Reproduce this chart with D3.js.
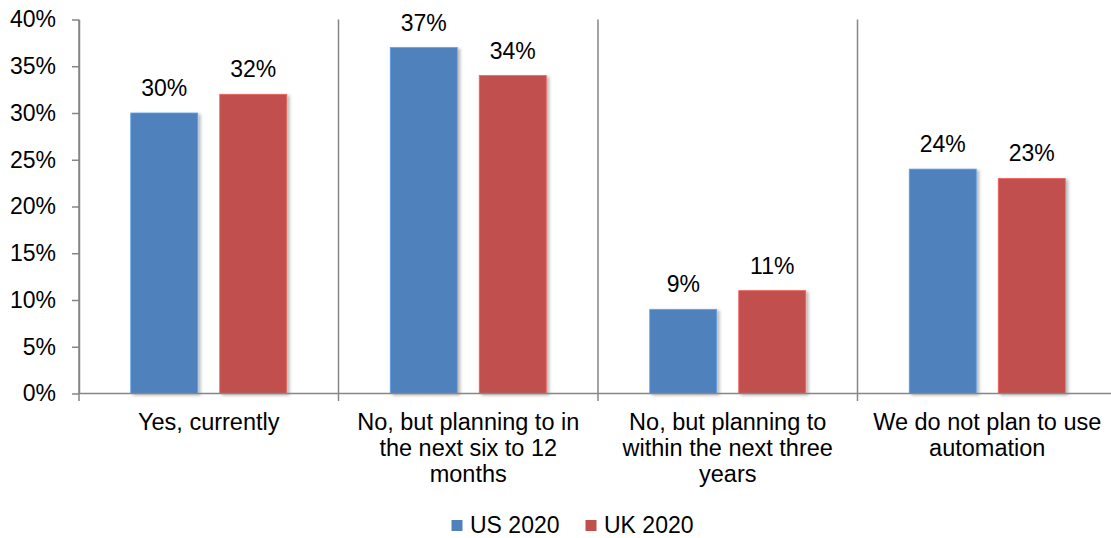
<!DOCTYPE html>
<html>
<head>
<meta charset="utf-8">
<script src="https://cdn.jsdelivr.net/npm/d3@7/dist/d3.min.js"></script>
<style>
  html, body { margin: 0; padding: 0; background: #ffffff; }
  svg { display: block; font-family: "Liberation Sans", Arial, sans-serif; }
</style>
</head>
<body>
<svg id="chart" width="1111" height="538"></svg>
<script>
// Survey answers, grouped by response
const categories = [
  "Yes, currently",
  "No, but planning to in the next six to 12 months",
  "No, but planning to within the next three years",
  "We do not plan to use automation"
];
const seriesNames = ["US 2020", "UK 2020"];
const us2020 = [30, 37, 9, 24];
const uk2020 = [32, 34, 11, 23];
const yTicks = [0, 5, 10, 15, 20, 25, 30, 35, 40];
const seriesColors = ["#4F81BD", "#C0504D"];

const svg = d3.select("#chart");
const plot = { left: 79, right: 1117, top: 19.5, bottom: 393.5 };

const y = d3.scaleLinear().domain([0, 40]).range([plot.bottom, plot.top]);
const x = d3.scaleBand().domain(categories).range([plot.left, plot.right]).padding(0);
const barW = 67, barGap = 22;
const inner = d3.scaleBand().domain(seriesNames)
  .range([-(barW + barGap / 2), barW + barGap / 2])
  .paddingInner(barGap / (barW + barGap)).paddingOuter(0);

// soft shadow under the bars
const defs = svg.append("defs");
const f = defs.append("filter").attr("id", "shadow")
  .attr("x", "-20%").attr("y", "-20%").attr("width", "150%").attr("height", "150%");
f.append("feDropShadow").attr("dx", 2.5).attr("dy", 1.5).attr("stdDeviation", 1.6)
  .attr("flood-color", "#000").attr("flood-opacity", 0.28);

const axisColor = "#868686";

// category separators (extend below the baseline)
svg.append("g").selectAll("line")
  .data(categories.map(c => x(c)).concat([plot.right]))
  .join("line")
  .attr("x1", d => d).attr("x2", d => d)
  .attr("y1", plot.top).attr("y2", plot.bottom + 7.5)
  .attr("stroke", axisColor).attr("stroke-width", 1.5);

// y axis
const yAxis = d3.axisLeft(y).tickValues(yTicks)
  .tickFormat(d => d + "%").tickSizeInner(7).tickSizeOuter(0).tickPadding(16);
const gy = svg.append("g").attr("transform", `translate(${plot.left},0)`).call(yAxis);
gy.select(".domain").attr("stroke", axisColor).attr("stroke-width", 1.5);
gy.selectAll(".tick line").attr("stroke", axisColor).attr("stroke-width", 1.5);
gy.selectAll(".tick text").attr("fill", "#000").attr("font-size", "23px")
  .attr("font-family", "Liberation Sans, Arial, sans-serif");

// bars
const rows = categories.map((c, i) => ({ c, vals: [us2020[i], uk2020[i]] }));
const groups = svg.append("g").selectAll("g").data(rows).join("g")
  .attr("transform", d => `translate(${x(d.c) + x.bandwidth() / 2},0)`);

groups.selectAll("rect")
  .data(d => d.vals.map((v, k) => ({ v, k })))
  .join("rect")
  .attr("x", d => inner(seriesNames[d.k]))
  .attr("width", inner.bandwidth())
  .attr("y", d => y(d.v))
  .attr("height", d => plot.bottom - y(d.v))
  .attr("fill", d => seriesColors[d.k])
  .attr("stroke", d => d3.color(seriesColors[d.k]).brighter(0.6))
  .attr("stroke-width", 0.8)
  .attr("filter", "url(#shadow)");

groups.selectAll("text")
  .data(d => d.vals.map((v, k) => ({ v, k })))
  .join("text")
  .attr("x", d => inner(seriesNames[d.k]) + inner.bandwidth() / 2)
  .attr("y", d => y(d.v) - 17)
  .attr("text-anchor", "middle")
  .attr("font-size", "23px")
  .attr("fill", "#000")
  .text(d => d.v + "%");

// x axis baseline
svg.append("line")
  .attr("x1", plot.left).attr("x2", plot.right)
  .attr("y1", plot.bottom).attr("y2", plot.bottom)
  .attr("stroke", axisColor).attr("stroke-width", 1.5);

// category labels, wrapped to fit the band
const labelSize = 23.5, lineH = 26, maxW = 245;
const labels = svg.append("g").selectAll("text").data(categories).join("text")
  .attr("text-anchor", "middle")
  .attr("font-size", labelSize + "px")
  .attr("fill", "#000")
  .attr("x", d => x(d) + x.bandwidth() / 2)
  .attr("y", 430);

labels.each(function (d) {
  const t = d3.select(this);
  const words = d.split(" ");
  const cx = x(d) + x.bandwidth() / 2;
  let line = [];
  let ts = t.append("tspan").attr("x", cx).attr("dy", 0);
  for (const w of words) {
    line.push(w);
    ts.text(line.join(" "));
    if (ts.node().getComputedTextLength() > maxW && line.length > 1) {
      line.pop();
      ts.text(line.join(" "));
      line = [w];
      ts = t.append("tspan").attr("x", cx).attr("dy", lineH).text(w);
    }
  }
});

// legend
const legend = svg.append("g").attr("transform", "translate(451.5,520)");
const legendX = [0, 134];
seriesNames.forEach((name, k) => {
  const g = legend.append("g").attr("transform", `translate(${legendX[k]},0)`);
  g.append("rect").attr("width", 11).attr("height", 11).attr("fill", seriesColors[k]);
  g.append("text").attr("x", 18.5).attr("y", 12.5).attr("font-size", "23px")
    .attr("fill", "#000").text(name);
});
</script>
</body>
</html>
